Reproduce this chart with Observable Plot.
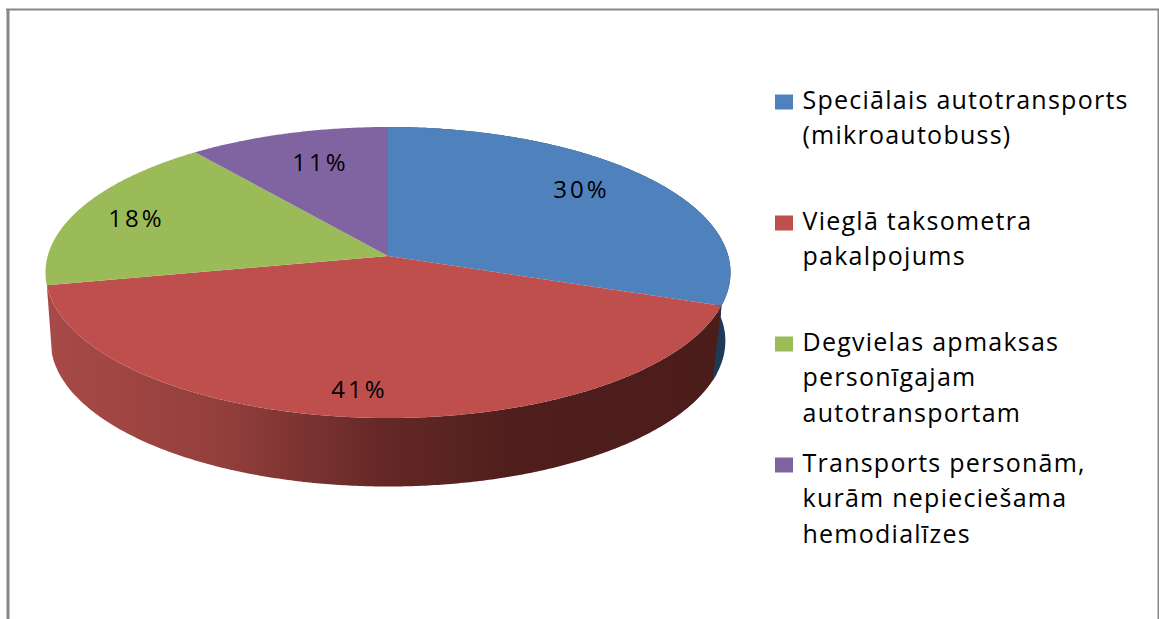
<!DOCTYPE html>
<html>
<head>
<meta charset="utf-8">
<script src="https://cdn.jsdelivr.net/npm/d3@7"></script>
<script src="https://cdn.jsdelivr.net/npm/@observablehq/plot@0.6"></script>
<style>html,body{margin:0;padding:0;background:#fff}svg{display:block}</style>
</head>
<body>
<div id="chart"></div>
<script>
const categories = [
  "Speciālais autotransports\n(mikroautobuss)",
  "Vieglā taksometra\npakalpojums",
  "Degvielas apmaksas\npersonīgajam\nautotransportam",
  "Transports personām,\nkurām nepieciešama\nhemodialīzes"
];
const shares = [30.4, 41.4, 17.6, 10.6];
const colors = ["#4f81bd", "#be4f4c", "#9bbb59", "#8064a2"];

// Perspective pie layout
const W = 1159, H = 619;
const cx = 388, cy = 256, R = 340.3, persp = -0.1134, tilt = 114.6;
const depth = 68.5, shrink = 0.985;

const rim = (deg, down = false) => {
  const a = deg * Math.PI / 180, s = Math.sin(a), c = -Math.cos(a), w = 1 + persp * c;
  const x = R * s / w, y = (cy + tilt * c) / w;
  return down ? [cx + shrink * x, y + depth] : [cx + x, y];
};

let acc = 0;
const slices = categories.map((name, i) => {
  const start = acc * 3.6; acc += shares[i];
  return {name, share: shares[i], start, end: acc * 3.6, i};
});

const angles = s => {
  const out = [];
  for (let d = s.start; d < s.end; d += 0.5) out.push(d);
  out.push(s.end);
  return out;
};

const topFace = slices.flatMap(s => angles(s).map(d => {
  const [x1, y1] = rim(d);
  return {name: s.name, x1, y1, x2: cx, y2: cy};
}));
// lean: how far the wall's lower edge runs past its upper edge, in degrees
const wall = (s, lean = 0) => angles(s).map(d => {
  const [x1, y1] = rim(d), [x2, y2] = rim(d + lean * (d - s.start) / (s.end - s.start), true);
  return {x1, y1, x2, y2};
});

const labelPos = [[581, 190], [359, 390], [136, 219], [320, 163]];
const pieLabels = slices.map((s, i) => ({
  text: Math.round(s.share) + "%", x: labelPos[i][0], y: labelPos[i][1]
}));

// Legend
const legendX = 802, legendTop = 100, legendStep = 121, lineStep = 35.7;
const legendRows = categories.flatMap((name, i) =>
  name.split("\n").map((text, j) => ({text, x: legendX, y: legendTop + i * legendStep + j * lineStep}))
);
const swatches = categories.map((name, i) => ({
  name, x1: 775, x2: 793,
  y1: legendTop + i * legendStep - 5.5, y2: legendTop + i * legendStep + 9.5
}));

const spaced = px => (index, scales, values, dimensions, context, next) => {
  const g = next(index, scales, values, dimensions, context);
  g.style.letterSpacing = px;
  return g;
};

const defs = () => {
  const d = d3.create("svg:defs");
  const g = d.append("linearGradient").attr("id", "redWall");
  [[0, "#a84a47"], [0.25, "#94403d"], [0.5, "#652826"], [0.68, "#501f1d"], [1, "#4a1c1a"]]
    .forEach(([o, c]) => g.append("stop").attr("offset", o).attr("stop-color", c));
  return d.node();
};

const chart = Plot.plot({
  width: W, height: H,
  margin: 0,
  x: {domain: [0, W], range: [0, W], axis: null},
  y: {domain: [0, H], range: [0, H], axis: null},
  color: {domain: categories, range: colors},
  style: {fontFamily: "'Open Sans', sans-serif", background: "#fff"},
  marks: [
    defs,
    Plot.ruleX([7.5], {y1: 9, y2: H, stroke: "#878787", strokeWidth: 3}),
    Plot.ruleY([9], {x1: 6, x2: W, stroke: "#878787", strokeWidth: 2}),
    Plot.ruleX([1158], {y1: 9, y2: H, stroke: "#878787", strokeWidth: 2}),
    Plot.area(wall(slices[1]), {x1: "x1", y1: "y1", x2: "x2", y2: "y2", fill: "url(#redWall)"}),
    Plot.area(wall(slices[0], 2.5), {x1: "x1", y1: "y1", x2: "x2", y2: "y2", fill: "#1f3a57"}),
    Plot.area(topFace, {x1: "x1", y1: "y1", x2: "x2", y2: "y2", z: "name", fill: "name"}),
    Plot.text(pieLabels, {x: "x", y: "y", text: "text", fontSize: 24, fill: "#000", render: spaced("3px")}),
    Plot.rect(swatches, {x1: "x1", x2: "x2", y1: "y1", y2: "y2", fill: "name"}),
    Plot.text(legendRows, {x: "x", y: "y", text: "text", textAnchor: "start", fontSize: 25, fill: "#000", render: spaced("1.25px")})
  ]
});
document.getElementById("chart").append(chart);
</script>
</body>
</html>
